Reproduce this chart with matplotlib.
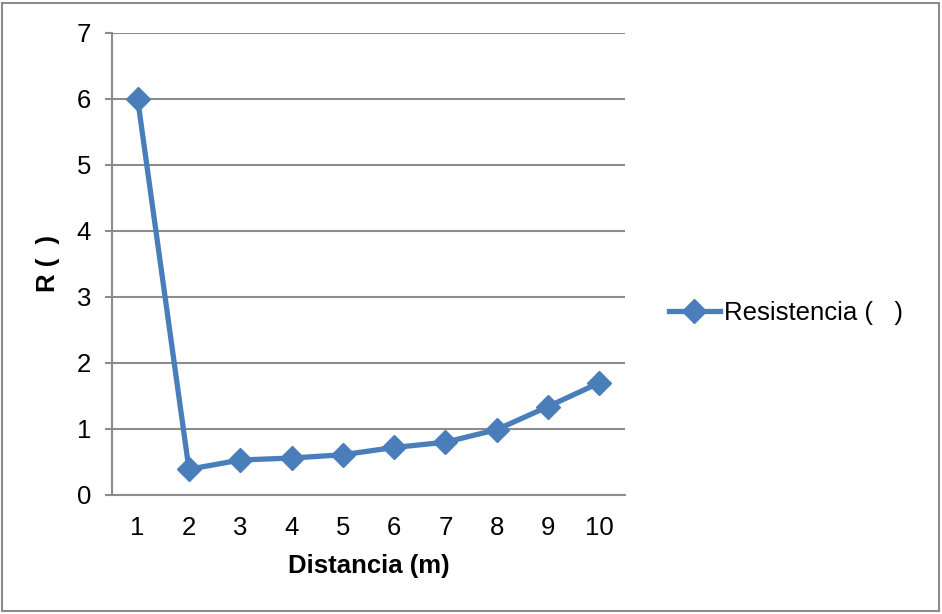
import matplotlib
matplotlib.use("Agg")
import matplotlib.pyplot as plt
from matplotlib.patches import Rectangle

plt.rcParams['font.family'] = ['Liberation Sans', 'DejaVu Sans']

distancia = [1, 2, 3, 4, 5, 6, 7, 8, 9, 10]
resistencia = [6.0, 0.39, 0.53, 0.56, 0.61, 0.72, 0.80, 0.99, 1.34, 1.70]
y_ticks = [0, 1, 2, 3, 4, 5, 6, 7]

blue = '#4A7EBB'
grid_gray = '#8C8C8C'
fs = 18.5

fig = plt.figure(figsize=(9.42, 6.14), dpi=100)
ax = fig.add_axes([112 / 942, 1 - 495 / 614, (625 - 112) / 942, (495 - 33) / 614])

ax.plot(distancia, resistencia, color=blue, lw=3.8, marker='D', ms=12.5,
        markerfacecolor=blue, markeredgecolor=blue, label='Resistencia (   )',
        solid_joinstyle='round', zorder=3)

ax.set_xlim(0.5, 10.5)
ax.set_ylim(0, 7)
ax.set_yticks(y_ticks)
ax.set_xticks(distancia)
ax.yaxis.grid(True, color=grid_gray, lw=1.5)
ax.set_axisbelow(True)

for s in ['top', 'right']:
    ax.spines[s].set_visible(False)
for s in ['left', 'bottom']:
    ax.spines[s].set_color(grid_gray)
    ax.spines[s].set_linewidth(1.5)

ax.tick_params(axis='y', length=5, width=1.5, color=grid_gray, labelsize=fs, pad=10)
ax.tick_params(axis='x', length=0, labelsize=fs, pad=15)

ax.set_xlabel('Distancia (m)', fontsize=fs, fontweight='bold', labelpad=10)
ax.set_ylabel('R (  )', fontsize=fs, fontweight='bold', labelpad=12)

leg = ax.legend(loc='center left', bbox_to_anchor=(1.04, 0.395), frameon=False,
                fontsize=fs, handlelength=2.0, handletextpad=0.15)

fig.patches.append(Rectangle((2 / 942, 3 / 614), 937 / 942, 608 / 614,
                             transform=fig.transFigure, fill=False,
                             edgecolor='#8C8C8C', lw=1.5))

fig.savefig('out.png', dpi=100)
